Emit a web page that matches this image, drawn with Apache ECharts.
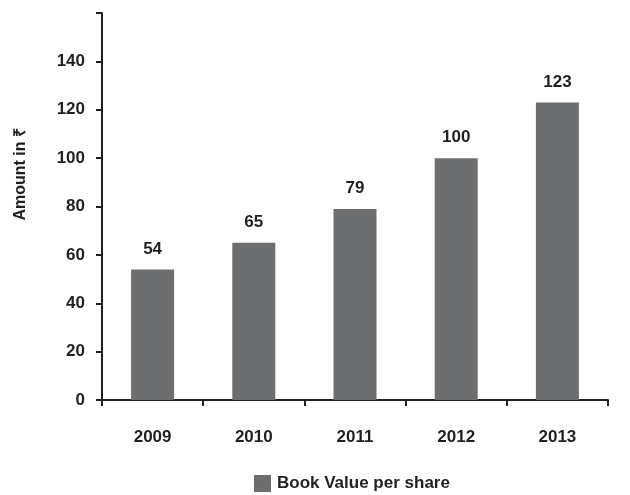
<!DOCTYPE html>
<html>
<head>
<meta charset="utf-8">
<script src="https://cdn.jsdelivr.net/npm/echarts@6/dist/echarts.min.js"></script>
<style>
  html, body { margin: 0; padding: 0; background: #fff; }
  #chart { width: 630px; height: 495px; }
</style>
</head>
<body>
<div id="chart"></div>
<script>
// chart data
const years = ['2009', '2010', '2011', '2012', '2013']
const bookValue = [54, 65, 79, 100, 123]
const seriesName = 'Book Value per share'
const yTicks = [0, 20, 40, 60, 80, 100, 120, 140]

const FONT = '"Liberation Sans", Arial, sans-serif'
const TXT = '#231f20'

const chart = echarts.init(document.getElementById('chart'))
chart.setOption({
  animation: false,
  textStyle: { fontFamily: FONT },
  grid: { left: 102, right: 22, top: 13, bottom: 95 },
  legend: {
    data: [seriesName],
    icon: 'rect',
    top: 475,
    left: 254,
    padding: 0,
    itemWidth: 17,
    itemHeight: 17,
    textStyle: { fontSize: 17, fontWeight: 'bold', color: TXT, fontFamily: FONT, padding: [0, 0, 0, 1] }
  },
  graphic: [{
    type: 'text',
    left: 13,
    top: 128,
    rotation: Math.PI / 2,
    style: {
      text: 'Amount in ₹',
      font: 'bold 16px ' + FONT,
      fill: TXT
    }
  }],
  xAxis: {
    type: 'category',
    data: years,
    axisLine: { lineStyle: { color: TXT, width: 2 } },
    axisTick: { show: true, length: 6, lineStyle: { color: TXT, width: 2 } },
    axisLabel: { margin: 29, fontSize: 17, fontWeight: 'bold', color: TXT, fontFamily: FONT }
  },
  yAxis: {
    type: 'value',
    min: 0,
    max: 160,
    interval: 20,
    splitLine: { show: false },
    axisLine: { show: true, lineStyle: { color: TXT, width: 2 } },
    axisTick: { show: true, length: 6, lineStyle: { color: TXT, width: 2 } },
    axisLabel: {
      margin: 17,
      fontSize: 17,
      fontWeight: 'bold',
      color: TXT,
      fontFamily: FONT,
      formatter: v => yTicks.includes(v) ? String(v) : ''
    }
  },
  series: [{
    name: seriesName,
    type: 'bar',
    data: bookValue,
    barWidth: 43,
    itemStyle: { color: '#6d6e70' },
    label: {
      show: true,
      position: 'top',
      distance: 12,
      fontSize: 17,
      fontWeight: 'bold',
      color: TXT,
      fontFamily: FONT
    }
  }]
})
</script>
</body>
</html>
